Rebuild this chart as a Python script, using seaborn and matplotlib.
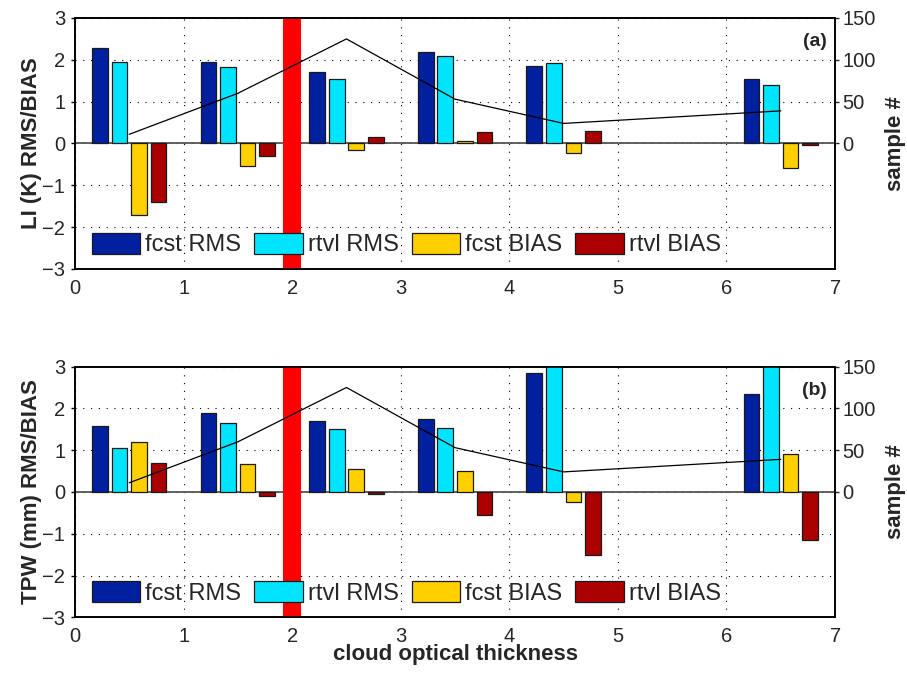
import numpy as np
import pandas as pd
import matplotlib
matplotlib.use("Agg")
import matplotlib.pyplot as plt
from matplotlib.patches import Patch
import seaborn as sns

sns.set_style("white")
plt.rcParams["font.family"] = ["Liberation Sans", "DejaVu Sans"]

# ---------------- data ----------------
tau = [0.5, 1.5, 2.5, 3.5, 4.5, 6.5]
series = ["fcst RMS", "rtvl RMS", "fcst BIAS", "rtvl BIAS"]

li_fcst_rms = [2.28, 1.96, 1.71, 2.18, 1.86, 1.55]
li_rtvl_rms = [1.96, 1.84, 1.55, 2.08, 1.93, 1.41]
li_fcst_bias = [-1.70, -0.54, -0.15, 0.06, -0.22, -0.58]
li_rtvl_bias = [-1.40, -0.29, 0.16, 0.28, 0.30, -0.03]

tpw_fcst_rms = [1.57, 1.90, 1.70, 1.75, 2.84, 2.35]
tpw_rtvl_rms = [1.05, 1.64, 1.50, 1.54, 3.40, 3.20]
tpw_fcst_bias = [1.20, 0.66, 0.55, 0.49, -0.25, 0.90]
tpw_rtvl_bias = [0.69, -0.10, -0.05, -0.55, -1.50, -1.16]

sample_n = [11, 60, 125, 53, 24, 39]
threshold = 2.0

colors = ["#0020A0", "#00E5FF", "#FFD000", "#AA0000"]

xticks = [0, 1, 2, 3, 4, 5, 6, 7]
yticks = [-3, -2, -1, 0, 1, 2, 3]
rticks = [0, 50, 100, 150]


def make_df(vals):
    rows = []
    for name, v in zip(series, vals):
        for t, y in zip(tau, v):
            rows.append({"tau": t, "value": y, "series": name})
    return pd.DataFrame(rows)


df_li = make_df([li_fcst_rms, li_rtvl_rms, li_fcst_bias, li_rtvl_bias])
df_tpw = make_df([tpw_fcst_rms, tpw_rtvl_rms, tpw_fcst_bias, tpw_rtvl_bias])
df_n = pd.DataFrame({"tau": tau, "n": sample_n})

fig = plt.figure(figsize=(9.07, 6.74), dpi=100)
ax_top = fig.add_axes([0.0827, 0.6009, 0.838, 0.3724])
ax_bot = fig.add_axes([0.0827, 0.0841, 0.838, 0.3720])

tick_fs = 14.5
label_fs = 16
panels = [(ax_top, df_li, "LI (K) RMS/BIAS", "(a)"),
          (ax_bot, df_tpw, "TPW (mm) RMS/BIAS", "(b)")]

for ax, df, ylab, tag in panels:
    ax.set_axisbelow(True)
    sns.barplot(data=df, x="tau", y="value", hue="series", hue_order=series,
                palette=colors, saturation=1, native_scale=True, width=0.72,
                gap=0.2, errorbar=None, edgecolor="#1a1a1a", linewidth=0.9,
                legend=False, ax=ax, zorder=3)
    ax.axhline(0, color="#555555", lw=1.3, zorder=2.5)
    ax.axvline(threshold, color="#FF0000", lw=13, zorder=4)
    ax.set_xlim(0, 7)
    ax.set_ylim(-3, 3)
    ax.set_xticks(xticks)
    ax.set_yticks(yticks)
    ax.grid(True, color="black", linestyle=(0, (1, 6)), linewidth=0.8)
    for s in ax.spines.values():
        s.set_color("black")
        s.set_linewidth(1.2)
    ax.tick_params(axis="x", labelsize=tick_fs, length=4, width=1,
                   color="black", direction="in", pad=7, top=False)
    ax.tick_params(axis="y", labelsize=tick_fs, length=3, width=1,
                   color="black", direction="out", pad=4, right=False)
    ax.set_xlabel("")
    ax.set_ylabel(ylab, fontsize=label_fs, fontweight="bold")
    ax.yaxis.set_label_coords(-0.043, 0.5)
    ax.text(0.989, 0.905, tag, transform=ax.transAxes, ha="right",
            va="center", fontsize=14, fontweight="bold", zorder=6)

    handles = [Patch(facecolor=c, edgecolor="#1a1a1a", linewidth=0.9)
               for c in colors]
    leg = ax.legend(handles, series, loc="lower left",
                    bbox_to_anchor=(0.022, 0.05), ncol=4, frameon=False,
                    fontsize=17, handlelength=2.05, handleheight=1.0,
                    handletextpad=0.22, columnspacing=0.55, borderpad=0,
                    borderaxespad=0)
    leg.set_zorder(7)

    axr = ax.twinx()
    sns.lineplot(data=df_n, x="tau", y="n", color="black", lw=0.9, ax=axr)
    axr.set_ylim(-150, 150)
    axr.set_yticks(rticks)
    axr.tick_params(axis="y", labelsize=tick_fs, length=3, width=1,
                    direction="out", pad=2)
    axr.set_ylabel("sample #", fontsize=label_fs, fontweight="bold")
    axr.yaxis.set_label_coords(1.066, 0.5)
    axr.set_xlim(0, 7)
    for s in axr.spines.values():
        s.set_color("black")
        s.set_linewidth(1.2)

ax_bot.set_xlabel("cloud optical thickness", fontsize=label_fs,
                  fontweight="bold", va="top")
ax_bot.xaxis.set_label_coords(0.5, -0.108)
ax_top.set_xlabel("")

fig.savefig("out.png", dpi=100)
